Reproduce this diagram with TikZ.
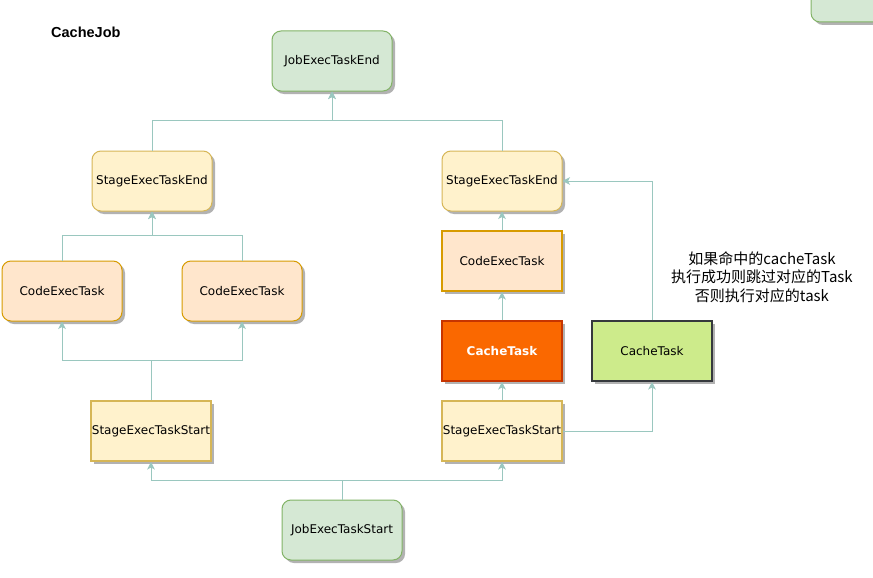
\documentclass[tikz,border=0pt]{standalone}
\usepackage{fontspec}
\setmainfont{DejaVu Sans}
\newfontfamily\cjkfont{Noto Sans CJK SC}
\newfontfamily\titlefont{Liberation Sans}
\usetikzlibrary{arrows.meta,shadows}
\definecolor{gfill}{HTML}{D5E8D4}
\definecolor{gline}{HTML}{82B366}
\definecolor{yfill}{HTML}{FFF2CC}
\definecolor{yline}{HTML}{D6B656}
\definecolor{ofill}{HTML}{FFE6CC}
\definecolor{oline}{HTML}{D79B00}
\definecolor{cfill}{HTML}{FA6800}
\definecolor{cline}{HTML}{C73500}
\definecolor{lfill}{HTML}{CDEB8B}
\definecolor{lline}{HTML}{36393D}
\definecolor{conncol}{HTML}{9AC7BF}
\tikzset{
  box/.style={draw, minimum width=120pt, minimum height=60pt, inner sep=0pt,
    font=\fontsize{12}{14}\selectfont,
    drop shadow={shadow xshift=3pt, shadow yshift=-3pt, fill=black!30, opacity=1}},
  rbox/.style={box, rounded corners=9pt, line width=1pt},
  greenbox/.style={rbox, fill=gfill, draw=gline},
  yelbox/.style={rbox, fill=yfill, draw=yline},
  orbox/.style={rbox, fill=ofill, draw=oline},
  yelsq/.style={box, fill=yfill, draw=yline, line width=2pt},
  orsq/.style={box, fill=ofill, draw=oline, line width=2pt},
  cachebox/.style={box, fill=cfill, draw=cline, line width=2pt, text=white, font=\fontsize{12}{14}\selectfont\bfseries},
  limebox/.style={box, fill=lfill, draw=lline, line width=2pt},
  conn/.style={draw=conncol, line width=0.9pt, -{Stealth[length=7.5pt,width=7.5pt,inset=2pt]}}
}
\begin{document}
\begin{tikzpicture}[x=1pt,y=-1pt]
\useasboundingbox (0,0) rectangle (873,578);
\fill[white] (0,0) rectangle (873,578);
% partial box top right
\node[greenbox] (partial) at (871,-8) {};
% title
\node[anchor=west, inner sep=0pt, font=\titlefont\fontsize{14.5}{16}\selectfont\bfseries] (title) at (51,32) {CacheJob};
% nodes
\node[greenbox] (jend) at (332,61) {JobExecTaskEnd};
\node[yelbox] (sendL) at (152,181) {StageExecTaskEnd};
\node[orbox] (codeL1) at (62,291) {CodeExecTask};
\node[orbox] (codeL2) at (242,291) {CodeExecTask};
\node[yelsq] (sstartL) at (151,431) {StageExecTaskStart};
\node[greenbox] (jstart) at (342,530) {JobExecTaskStart};
\node[yelbox] (sendR) at (502,181) {StageExecTaskEnd};
\node[orsq] (codeR) at (502,261) {CodeExecTask};
\node[cachebox] (cacheO) at (502,351) {CacheTask};
\node[yelsq] (sstartR) at (502,431) {StageExecTaskStart};
\node[limebox] (cacheG) at (652,351) {CacheTask};
\node[align=center, inner sep=0pt, font=\cjkfont\fontsize{15}{18.5}\selectfont] (note) at (762,277)
  {如果命中的cacheTask\\执行成功则跳过对应的Task\\否则执行对应的task};
% connectors
\draw[conn] (sendL.north) -- ++(0,-30) -| (jend.south);
\draw[conn] (sendR.north) -- ++(0,-30) -| (jend.south);
\draw[conn] (codeL1.north) -- ++(0,-25) -| (sendL.south);
\draw[conn] (codeL2.north) -- ++(0,-25) -| (sendL.south);
\draw[conn] (sstartL.north) -- ++(0,-40) -| (codeL1.south);
\draw[conn] (sstartL.north) -- ++(0,-40) -| (codeL2.south);
\draw[conn] (jstart.north) -- ++(0,-19) -| (sstartL.south);
\draw[conn] (jstart.north) -- ++(0,-19) -| (sstartR.south);
\draw[conn] (codeR.north) -- (sendR.south);
\draw[conn] (cacheO.north) -- (codeR.south);
\draw[conn] (sstartR.north) -- (cacheO.south);
\draw[conn] (sstartR.east) -| (cacheG.south);
\draw[conn] (cacheG.north) |- (sendR.east);
\end{tikzpicture}
\end{document}
